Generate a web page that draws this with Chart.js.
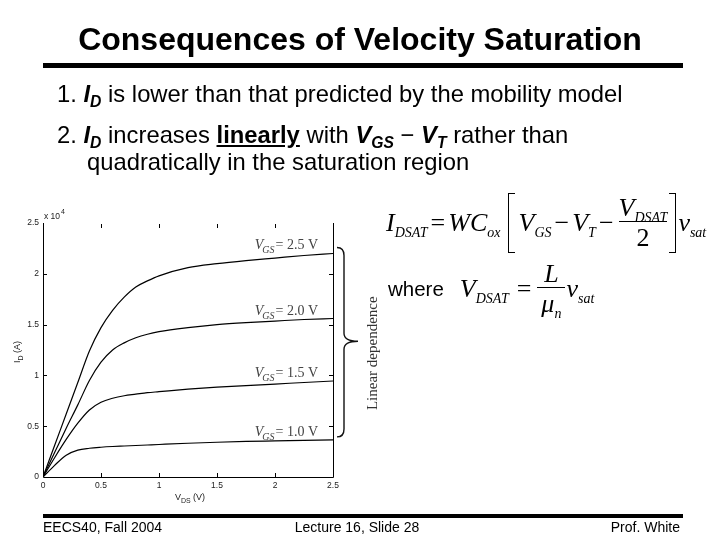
<!DOCTYPE html>
<html>
<head>
<meta charset="utf-8">
<script src="https://cdn.jsdelivr.net/npm/chart.js@4/dist/chart.umd.min.js"></script>
<style>
  html, body { margin:0; padding:0; background:#fff; }
  body { width:720px; height:540px; position:relative; overflow:hidden; font-family:"Liberation Sans", Arial, sans-serif; color:#000; }
  #c { position:absolute; left:0; top:0; z-index:1; }
  .t { position:absolute; z-index:2; white-space:nowrap; line-height:1; }
  .rule { position:absolute; z-index:2; background:#000; }
  .sb { font-size:0.66em; position:relative; top:0.3em; }
  .eqrow { position:absolute; z-index:2; display:flex; align-items:center; white-space:nowrap; }
  .m { font-family:"Liberation Serif","Times New Roman",serif; font-size:26px; font-style:italic; line-height:1; }
  .s { font-size:14px; position:relative; top:6px; font-style:italic; }
  .op { font-style:normal; margin:0 3px; }
  .lb, .rb { display:inline-block; width:6px; height:58px; border:1.5px solid #000; }
  .lb { border-right:none; margin:0 4px 0 7px; }
  .rb { border-left:none; margin:0 2px 0 0; }
  .frac { display:inline-flex; flex-direction:column; align-items:center; margin:0 2px; }
  .frac .den { border-top:1.3px solid #000; align-self:stretch; text-align:center; padding-top:3px; }
</style>
</head>
<body>
<canvas id="c" width="720" height="540"></canvas>

<div class="t" style="left:0; width:720px; text-align:center; top:23px; font-size:32px; font-weight:bold;">Consequences of Velocity Saturation</div>
<div class="rule" style="left:43px; top:63px; width:640px; height:5px;"></div>

<div class="t" style="left:57px; top:82px; font-size:23.8px;">1. <b><i>I<span class="sb">D</span></i></b> is lower than that predicted by the mobility model</div>
<div class="t" style="left:57px; top:123px; font-size:23.8px;">2. <b><i>I<span class="sb">D</span></i></b> increases <b><u>linearly</u></b> with <b><i>V<span class="sb">GS</span></i></b> &minus; <b><i>V<span class="sb">T</span></i></b> rather than</div>
<div class="t" style="left:87px; top:150px; font-size:23.8px;">quadratically in the saturation region</div>

<div class="eqrow" style="left:386px; top:193px; height:60px;">
  <span class="m">I<span class="s">DSAT</span></span>
  <span class="m op">=</span>
  <span class="m">WC<span class="s">ox</span></span>
  <span class="lb"></span>
  <span class="m">V<span class="s">GS</span></span>
  <span class="m op">&minus;</span>
  <span class="m">V<span class="s">T</span></span>
  <span class="m op">&minus;</span>
  <span class="frac"><span class="num m">V<span class="s">DSAT</span></span><span class="den m" style="font-style:normal">2</span></span>
  <span class="rb"></span>
  <span class="m">v<span class="s">sat</span></span>
</div>

<div class="eqrow" style="left:388px; top:259px; height:60px;">
  <span style="font-family:'Liberation Sans',Arial,sans-serif; font-size:20.5px; margin-right:16px;">where</span>
  <span class="m">V<span class="s">DSAT</span></span>
  <span class="m op" style="margin-left:8px;">=</span>
  <span class="frac" style="margin:0 1px 0 3px;"><span class="num m" style="padding:0 6px;">L</span><span class="den m" style="padding-left:4px; padding-right:4px;">&mu;<span class="s">n</span></span></span>
  <span class="m">v<span class="s">sat</span></span>
</div>

<div class="rule" style="left:43px; top:514px; width:640px; height:4px;"></div>
<div class="t" style="left:43px; top:520px; font-size:14px;">EECS40, Fall 2004</div>
<div class="t" style="left:357px; top:520px; font-size:14px; transform:translateX(-50%);">Lecture 16, Slide 28</div>
<div class="t" style="right:40px; top:520px; font-size:14px;">Prof. White</div>

<script>
// ---- data (drain current in units of 1e-4 A) ----
const vds  = [0, 0.1, 0.2, 0.3, 0.4, 0.5, 0.6, 0.7, 0.8, 0.9, 1.0, 1.25, 1.5, 1.75, 2.0, 2.25, 2.5];
const id25 = [0, 0.31, 0.62, 0.93, 1.24, 1.47, 1.64, 1.77, 1.87, 1.93, 1.98, 2.06, 2.10, 2.13, 2.155, 2.18, 2.20];
const id20 = [0, 0.24, 0.48, 0.71, 0.95, 1.13, 1.25, 1.32, 1.37, 1.405, 1.43, 1.47, 1.50, 1.52, 1.535, 1.55, 1.56];
const id15 = [0, 0.19, 0.37, 0.53, 0.66, 0.735, 0.775, 0.80, 0.815, 0.83, 0.84, 0.865, 0.885, 0.90, 0.915, 0.93, 0.945];
const id10 = [0, 0.115, 0.215, 0.265, 0.283, 0.293, 0.30, 0.305, 0.31, 0.315, 0.32, 0.332, 0.342, 0.35, 0.355, 0.36, 0.365];
const vgsLabels = ['2.5', '2.0', '1.5', '1.0'];
const xTickLabels = ['0', '0.5', '1', '1.5', '2', '2.5'];
const yTickLabels = ['0', '0.5', '1', '1.5', '2', '2.5'];
const bracketText = 'Linear dependence';

const series = [id25, id20, id15, id10];

const mk = arr => vds.map((v, i) => ({ x: v, y: arr[i] }));

const decor = {
  id: 'decor',
  afterDraw(chart) {
    const { ctx, chartArea: a, scales: { x, y } } = chart;
    ctx.save();
    ctx.strokeStyle = '#000';
    ctx.lineWidth = 1;
    // axis box (no top line, as in the reference)
    ctx.beginPath();
    ctx.moveTo(a.left + 0.5, a.top);
    ctx.lineTo(a.left + 0.5, a.bottom + 0.5);
    ctx.lineTo(a.right + 0.5, a.bottom + 0.5);
    ctx.lineTo(a.right + 0.5, a.top);
    ctx.stroke();
    // inward ticks
    ctx.beginPath();
    x.ticks.forEach(t => {
      if (t.value <= x.min || t.value >= x.max) return;
      const px = Math.round(x.getPixelForValue(t.value)) + 0.5;
      ctx.moveTo(px, a.bottom); ctx.lineTo(px, a.bottom - 4);
      ctx.moveTo(px, a.top + 1); ctx.lineTo(px, a.top + 5);
    });
    y.ticks.forEach(t => {
      if (t.value <= y.min || t.value >= y.max) return;
      const py = Math.round(y.getPixelForValue(t.value)) + 0.5;
      ctx.moveTo(a.left, py); ctx.lineTo(a.left + 4, py);
      ctx.moveTo(a.right, py); ctx.lineTo(a.right - 4, py);
    });
    ctx.stroke();

    // exponent label
    ctx.fillStyle = '#222';
    ctx.textBaseline = 'alphabetic';
    ctx.textAlign = 'left';
    ctx.font = '8.5px "Liberation Sans", Arial, sans-serif';
    ctx.fillText('x 10', a.left + 1, a.top - 4);
    const w10 = ctx.measureText('x 10').width;
    ctx.font = '7px "Liberation Sans", Arial, sans-serif';
    ctx.fillText('4', a.left + 2 + w10, a.top - 9);

    // y axis title  I_D (A)
    ctx.save();
    ctx.translate(20, (a.top + a.bottom) / 2 + 2);
    ctx.rotate(-Math.PI / 2);
    ctx.font = '9px "Liberation Sans", Arial, sans-serif';
    const wI = ctx.measureText('I').width;
    ctx.font = '7px "Liberation Sans", Arial, sans-serif';
    const wD = ctx.measureText('D').width;
    ctx.font = '9px "Liberation Sans", Arial, sans-serif';
    const wA = ctx.measureText(' (A)').width;
    let sx = -(wI + wD + wA) / 2;
    ctx.fillText('I', sx, 0);
    ctx.font = '7px "Liberation Sans", Arial, sans-serif';
    ctx.fillText('D', sx + wI, 3);
    ctx.font = '9px "Liberation Sans", Arial, sans-serif';
    ctx.fillText(' (A)', sx + wI + wD, 0);
    ctx.restore();

    // x axis title V_DS (V)
    {
      ctx.font = '9px "Liberation Sans", Arial, sans-serif';
      const wV = ctx.measureText('V').width;
      ctx.font = '7px "Liberation Sans", Arial, sans-serif';
      const wS = ctx.measureText('DS').width;
      ctx.font = '9px "Liberation Sans", Arial, sans-serif';
      const wR = ctx.measureText(' (V)').width;
      const cx = (a.left + a.right) / 2 + 2;
      let x0 = cx - (wV + wS + wR) / 2;
      const by = a.bottom + 23;
      ctx.fillText('V', x0, by);
      ctx.font = '7px "Liberation Sans", Arial, sans-serif';
      ctx.fillText('DS', x0 + wV, by + 3);
      ctx.font = '9px "Liberation Sans", Arial, sans-serif';
      ctx.fillText(' (V)', x0 + wV + wS, by);
    }

    // curve labels  V_GS = ... V
    const last = vds.length - 1;
    series.forEach((s, k) => {
      const yc = y.getPixelForValue(s[last]) - 9;
      const xr = x.getPixelForValue(x.max) - 15;
      const serif = '"Liberation Serif", "Times New Roman", serif';
      ctx.font = 'italic 14px ' + serif;
      const w1 = ctx.measureText('V').width;
      ctx.font = 'italic 10px ' + serif;
      const w2 = ctx.measureText('GS').width;
      ctx.font = '14px ' + serif;
      const rest = '= ' + vgsLabels[k] + ' V';
      const w3 = ctx.measureText(rest).width;
      let x0 = xr - (w1 + w2 + w3);
      const base = yc + 5;
      ctx.fillStyle = '#444';
      ctx.font = 'italic 14px ' + serif;
      ctx.fillText('V', x0, base);
      ctx.font = 'italic 10px ' + serif;
      ctx.fillText('GS', x0 + w1 - 1, base + 4);
      ctx.font = '14px ' + serif;
      ctx.fillText(rest, x0 + w1 + w2, base);
    });

    // curly brace spanning the saturation currents
    const top = y.getPixelForValue(id25[last]) - 6;
    const bot = y.getPixelForValue(id10[last]) - 3;
    const mid = (top + bot) / 2 - 1;
    const bx = a.right + 4, sx2 = a.right + 11, tipx = a.right + 25;
    ctx.strokeStyle = '#111';
    ctx.lineWidth = 1.4;
    ctx.beginPath();
    ctx.moveTo(bx, top);
    ctx.quadraticCurveTo(sx2, top, sx2, top + 8);
    ctx.lineTo(sx2, mid - 8);
    ctx.quadraticCurveTo(sx2, mid, tipx, mid);
    ctx.quadraticCurveTo(sx2, mid, sx2, mid + 8);
    ctx.lineTo(sx2, bot - 8);
    ctx.quadraticCurveTo(sx2, bot, bx, bot);
    ctx.stroke();

    // rotated annotation
    ctx.save();
    ctx.translate(a.right + 40, mid + 12);
    ctx.rotate(-Math.PI / 2);
    ctx.fillStyle = '#333';
    ctx.font = '15px "Liberation Serif", "Times New Roman", serif';
    ctx.textAlign = 'center';
    ctx.textBaseline = 'middle';
    ctx.fillText(bracketText, 0, 0);
    ctx.restore();

    ctx.restore();
  }
};

new Chart(document.getElementById('c'), {
  type: 'line',
  data: {
    datasets: series.map((s, k) => ({
      label: 'VGS = ' + vgsLabels[k] + ' V',
      data: mk(s),
      borderColor: '#000',
      borderWidth: 1.2,
      pointRadius: 0,
      fill: false,
      cubicInterpolationMode: 'monotone'
    }))
  },
  options: {
    responsive: false,
    animation: false,
    devicePixelRatio: 1,
    layout: { padding: { left: 0, top: 223, right: 387, bottom: 0 } },
    plugins: { legend: { display: false }, tooltip: { enabled: false } },
    scales: {
      x: {
        type: 'linear', min: 0, max: 2.5,
        grid: { display: false, drawTicks: false },
        border: { display: false },
        ticks: {
          stepSize: 0.5, padding: 4, color: '#222', maxRotation: 0,
          font: { size: 8.5, family: '"Liberation Sans", Arial, sans-serif' },
          callback: (v, i) => xTickLabels[i]
        },
        afterFit: s => { s.height = 63; }
      },
      y: {
        type: 'linear', min: 0, max: 2.5,
        grid: { display: false, drawTicks: false },
        border: { display: false },
        ticks: {
          stepSize: 0.5, padding: 4, color: '#222',
          font: { size: 8.5, family: '"Liberation Sans", Arial, sans-serif' },
          callback: (v, i) => yTickLabels[i]
        },
        afterFit: s => { s.width = 43; }
      }
    }
  },
  plugins: [decor]
});
</script>
</body>
</html>
